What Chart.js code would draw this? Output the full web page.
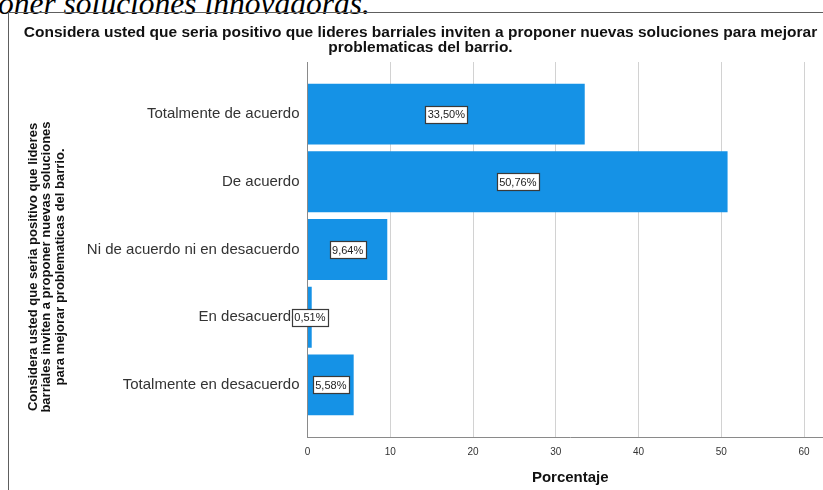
<!DOCTYPE html>
<html lang="es">
<head>
  <meta charset="UTF-8" />
  <title>Porcentaje - lideres barriales</title>
  <script src="https://cdn.jsdelivr.net/npm/chart.js"></script>
  <style>
    html, body { margin: 0; padding: 0; width: 823px; height: 490px; overflow: hidden; background: #fff; }
    .lead { position: absolute; left: -2px; top: -12px; font: italic 31.5px/31px "Liberation Serif", "DejaVu Serif", serif; color: #000; white-space: nowrap; }
    .frame { position: absolute; left: 8px; top: 12px; width: 900px; height: 600px; border-left: 1px solid #5e5e5e; border-top: 1px solid #5e5e5e; }
    .chart-box { position: absolute; left: 0; top: 0; width: 850px; height: 495px; }
  </style>
</head>
<body>
  <div class="lead">oner soluciones innovadoras.</div>
  <div class="frame"></div>
  <div class="chart-box"><canvas id="chart"></canvas></div>

  <script>
    const categories = [
      'Totalmente de acuerdo',
      'De acuerdo',
      'Ni de acuerdo ni en desacuerdo',
      'En desacuerdo',
      'Totalmente en desacuerdo'
    ];
    const percentages = [33.50, 50.76, 9.64, 0.51, 5.58];
    const xTicks = [0, 10, 20, 30, 40, 50, 60];
    const chartTitle = [
      'Considera usted que seria positivo que lideres barriales inviten a proponer nuevas soluciones para mejorar',
      'problematicas del barrio.'
    ];
    const yTitle = [
      'Considera usted que seria positivo que lideres',
      'barriales inviten a proponer nuevas soluciones',
      'para mejorar problematicas del barrio.'
    ];
    const xTitle = 'Porcentaje';

    Chart.defaults.font.family = "'Liberation Sans', Arial, sans-serif";
    Chart.defaults.color = '#333';

    const fmt = v => v.toFixed(2).replace('.', ',') + '%';

    // white boxed value labels in the middle of each bar
    const valueBoxes = {
      id: 'valueBoxes',
      afterDatasetsDraw(chart) {
        const ctx = chart.ctx;
        const meta = chart.getDatasetMeta(0);
        ctx.save();
        ctx.font = "11px 'Liberation Sans', Arial, sans-serif";
        ctx.textAlign = 'center';
        ctx.textBaseline = 'middle';
        meta.data.forEach((bar, i) => {
          const text = fmt(percentages[i]);
          const cx = (bar.x + bar.base) / 2;
          const cy = bar.y;
          const w = Math.round(ctx.measureText(text).width + 5);
          const h = 17;
          const left = Math.round(cx - w / 2) + 0.5;
          const top = Math.round(cy - h / 2) + 0.5;
          ctx.fillStyle = '#fff';
          ctx.fillRect(left, top, w, h);
          ctx.strokeStyle = '#3a3a3a';
          ctx.lineWidth = 1.2;
          ctx.strokeRect(left, top, w, h);
          ctx.fillStyle = '#222';
          ctx.fillText(text, cx, cy + 1);
        });
        ctx.restore();
      }
    };

    // rotated three-line title of the category axis
    const yAxisTitle = {
      id: 'yAxisTitle',
      afterDraw(chart) {
        const ctx = chart.ctx;
        ctx.save();
        ctx.translate(46.5, 267);
        ctx.rotate(-Math.PI / 2);
        ctx.font = "bold 13px 'Liberation Sans', Arial, sans-serif";
        ctx.fillStyle = '#111';
        ctx.textAlign = 'center';
        ctx.textBaseline = 'middle';
        yTitle.forEach((line, i) => ctx.fillText(line, 0, (i - 1) * 13.5));
        ctx.restore();
      }
    };

    new Chart(document.getElementById('chart'), {
      type: 'bar',
      data: {
        datasets: [{
          label: xTitle,
          data: percentages.map((v, i) => ({ x: v, y: i })),
          backgroundColor: '#1592e6',
          categoryPercentage: 1,
          barPercentage: 0.9
        }]
      },
      options: {
        indexAxis: 'y',
        responsive: true,
        maintainAspectRatio: false,
        animation: false,
        layout: { padding: { left: 8, top: 0, right: 17, bottom: 8 } },
        plugins: {
          legend: { display: false },
          tooltip: { enabled: false },
          title: {
            display: true,
            text: chartTitle,
            color: '#111',
            font: { size: 15.5, weight: 'bold', lineHeight: 0.968 },
            padding: { top: 25, bottom: 7 }
          }
        },
        scales: {
          x: {
            type: 'linear',
            min: 0,
            max: 63.5,
            afterBuildTicks: s => { s.ticks = xTicks.map(v => ({ value: v })); },
            afterFit: s => { s.height = 50; },
            grid: { color: '#d2d2d2', lineWidth: 1, drawTicks: false },
            border: { color: '#8a8a8a', width: 1 },
            ticks: { font: { size: 10 }, color: '#333', padding: 9 },
            title: {
              display: true,
              text: xTitle,
              color: '#111',
              font: { size: 15, weight: 'bold', lineHeight: 1.2 },
              padding: { top: 0, bottom: 0 }
            }
          },
          y: {
            type: 'linear',
            reverse: true,
            offset: false,
            min: -0.77,
            max: 4.77,
            afterBuildTicks: s => { s.ticks = categories.map((_, i) => ({ value: i })); },
            afterFit: s => { s.width = 299.5; },
            grid: { display: false, drawTicks: false },
            border: { display: true, color: '#8a8a8a', width: 1 },
            ticks: {
              callback: v => categories[v],
              font: { size: 15 },
              color: '#333',
              padding: 8
            }
          }
        }
      },
      plugins: [valueBoxes, yAxisTitle]
    });
  </script>
</body>
</html>
